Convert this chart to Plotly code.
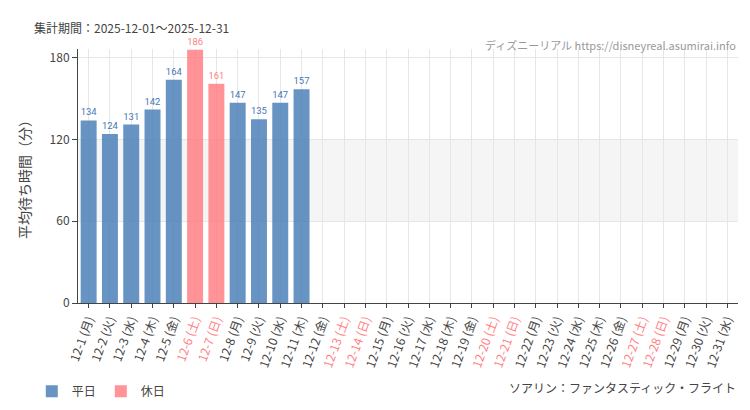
import plotly.graph_objects as go

days = list(range(1, 32))
dows = ["月","火","水","木","金","土","日"]
values = [134,124,131,142,164,186,161,147,135,147,157] + [None]*20
holiday = [ (d-1) % 7 >= 5 for d in days ]
labels = [f"12-{d} ({dows[(d-1)%7]})" for d in days]

BLUE = "rgba(70,125,180,0.82)"
RED = "rgba(255,120,125,0.8)"
TXT_B = "#3f78b5"
TXT_R = "#ff7f85"

ticktext = [f"<span style='color:{TXT_R}'>{l}</span>" if h else l for l, h in zip(labels, holiday)]

fig = go.Figure()
for name, flag, col, tcol in [("平日", False, BLUE, TXT_B), ("休日", True, RED, TXT_R)]:
    xs = [l for l, h, v in zip(labels, holiday, values) if h == flag and v is not None]
    ys = [v for h, v in zip(holiday, values) if h == flag and v is not None]
    fig.add_trace(go.Bar(x=xs, y=ys, name=name, marker=dict(color=col, line=dict(width=0)),
                         text=ys, textposition="outside", cliponaxis=False,
                         textfont=dict(color=tcol, size=14, family="Roboto, sans-serif")))

fig.add_hrect(y0=60, y1=120, fillcolor="rgba(0,0,0,0.04)", line_width=0, layer="below")

fig.update_layout(
    width=750, height=410, margin=dict(l=70, r=20, t=41, b=105),
    plot_bgcolor="white", paper_bgcolor="white", bargap=0.25, barmode="overlay",
    font=dict(family="Noto Sans CJK JP, sans-serif", color="#444", size=12),
    legend=dict(orientation="h", x=-0.07, y=-0.29, xanchor="left", yanchor="top", font=dict(size=12)),
    xaxis=dict(categoryorder="array", categoryarray=labels, tickvals=labels, ticktext=ticktext,
               tickangle=-70, showgrid=True, gridcolor="#e6e6e6", ticks="outside", ticklen=4,
               showline=True, linecolor="#444", tickfont=dict(size=12), range=[-0.5, 30.5]),
    yaxis=dict(range=[0, 186.5], tickvals=[0, 60, 120, 180], showgrid=True, gridcolor="#e6e6e6",
               ticks="outside", ticklen=5, showline=True, linecolor="#444", zeroline=False,
               title=dict(text="平均待ち時間（分）", font=dict(size=14)), tickfont=dict(size=12)),
    annotations=[
        dict(text="集計期間：2025-12-01～2025-12-31", xref="paper", yref="paper", x=-0.07, y=1.045,
             xanchor="left", yanchor="bottom", showarrow=False, font=dict(size=12, color="#444")),
        dict(text="ディズニーリアル https://disneyreal.asumirai.info", xref="paper", yref="paper", x=1.0, y=0.975,
             xanchor="right", yanchor="bottom", showarrow=False, font=dict(size=11, color="#999")),
        dict(text="ソアリン：ファンタスティック・フライト", xref="paper", yref="paper", x=1.0, y=-0.29,
             xanchor="right", yanchor="top", showarrow=False, font=dict(size=12, color="#444")),
    ],
)
fig.write_html("out.html")
